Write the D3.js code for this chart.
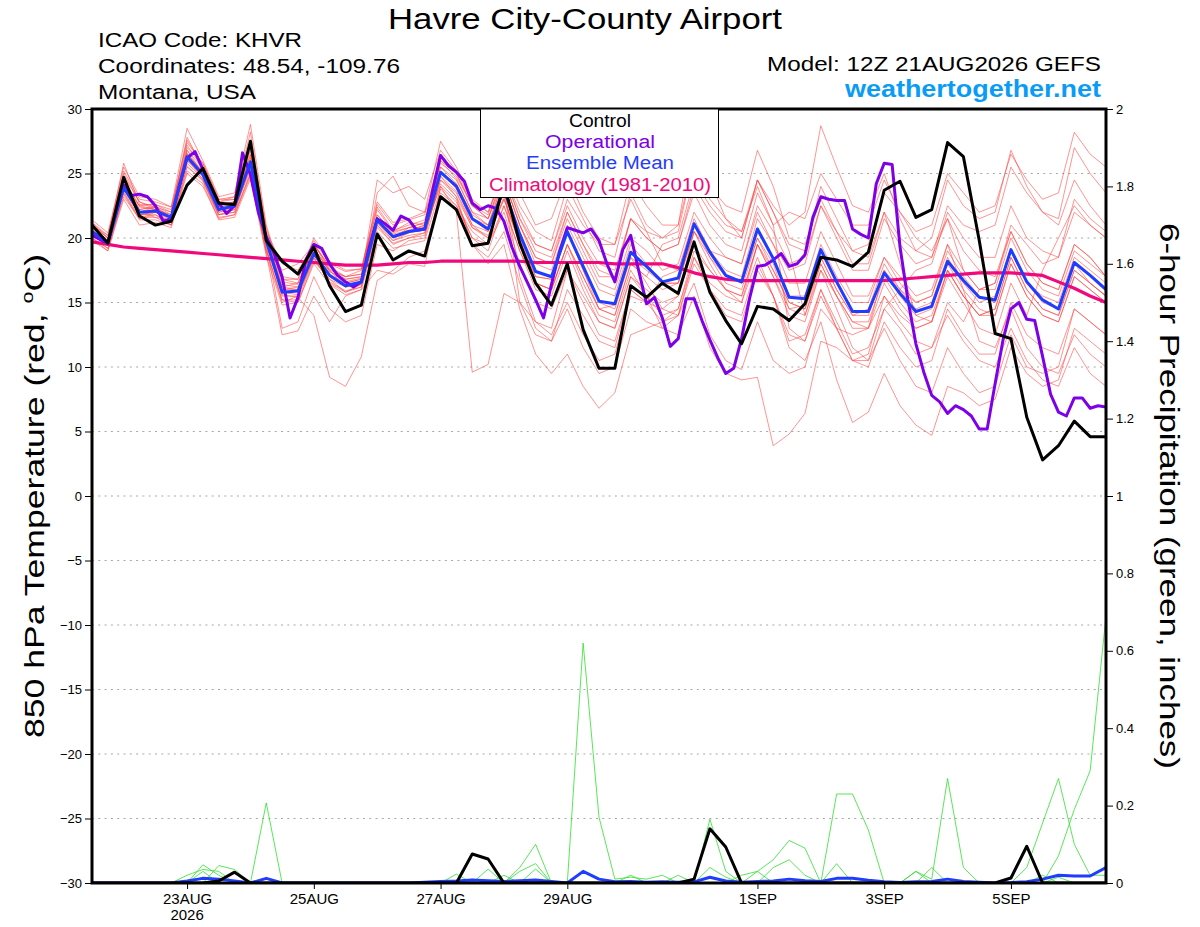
<!DOCTYPE html>
<html>
<head>
<meta charset="utf-8">
<script src="https://cdn.jsdelivr.net/npm/d3@7"></script>
<style>
body { margin: 0; background: #fff; }
text { font-family: "Liberation Sans", Arial, Helvetica, sans-serif; }
</style>
</head>
<body>
<script>
// run start and 6-hourly steps (65 points, 21AUG 12Z -> 6SEP 12Z)
const RUN_START = "2026-08-21T12:00:00Z"
const RUN_END = "2026-09-06T12:00:00Z"

const tickDates = ["2026-08-23", "2026-08-25", "2026-08-27", "2026-08-29", "2026-09-01", "2026-09-03", "2026-09-05"]
const tickLabels = ["23AUG", "25AUG", "27AUG", "29AUG", "1SEP", "3SEP", "5SEP"]
const tempTicks = [30, 25, 20, 15, 10, 5, 0, -5, -10, -15, -20, -25, -30]
const precipTicks = [0, 0.2, 0.4, 0.6, 0.8, 1, 1.2, 1.4, 1.6, 1.8, 2]

// control run, 850 hPa temp
const control = [21.0, 19.6, 24.7, 21.7, 21.0, 21.3, 24.1, 25.4, 22.7, 22.6, 27.5,
    19.8, 18.2, 17.2, 19.3, 16.3, 14.3, 14.8, 20.3, 18.3, 19.0, 18.6,
    23.2, 22.2, 19.4, 19.6, 24.2, 19.6, 16.5, 14.8, 18.0, 12.9, 9.9,
    9.9, 16.3, 15.4, 16.5, 15.7, 19.7, 15.8, 13.6, 11.8, 14.7, 14.5,
    13.6, 14.9, 18.5, 18.3, 17.8, 18.9, 23.7, 24.4, 21.6, 22.2, 27.4,
    26.3, 19.8, 12.6, 12.2, 6.1, 2.8, 3.9, 5.8, 4.6, 4.6]

// ensemble mean
const ensMean = [20.5, 19.6, 23.9, 22.0, 22.1, 21.6, 26.3, 24.9, 22.2, 22.5, 25.9,
    19.8, 15.8, 15.9, 18.8, 17.1, 16.3, 16.6, 21.4, 20.1, 20.5, 20.7,
    25.1, 24.0, 21.5, 20.7, 23.8, 20.3, 17.4, 17.0, 20.5, 17.8, 15.1,
    14.9, 18.9, 17.8, 16.6, 16.9, 21.1, 18.9, 17.1, 16.6, 20.7, 18.4,
    15.4, 15.3, 19.1, 16.6, 14.3, 14.3, 17.3, 15.7, 14.3, 14.7, 18.2,
    16.7, 15.4, 15.2, 19.1, 16.6, 15.2, 14.5, 18.1, 17.1, 16.0]

// climatology 1981-2010
const climo = [19.7, 19.5, 19.3, 19.2, 19.1, 19.0, 18.9, 18.8, 18.7, 18.6, 18.5,
    18.4, 18.3, 18.2, 18.1, 18.0, 17.9, 17.9, 17.9, 18.0, 18.1, 18.1,
    18.2, 18.2, 18.2, 18.2, 18.2, 18.2, 18.1, 18.1, 18.1, 18.1, 18.1,
    18.0, 18.0, 18.0, 18.0, 17.7, 17.3, 17.0, 16.8, 16.7, 16.7, 16.7,
    16.7, 16.7, 16.7, 16.7, 16.7, 16.7, 16.7, 16.8, 16.9, 17.0, 17.1,
    17.2, 17.3, 17.3, 17.3, 17.2, 17.1, 16.6, 16.1, 15.5, 15.0]

// operational run is 3-hourly (129 points)
const operational = [20.2, 19.9, 19.6, 22.0, 24.1, 23.3, 23.4, 23.2, 22.5, 21.3, 21.5,
    24.0, 26.2, 26.7, 25.3, 24.0, 22.7, 21.9, 22.5, 26.6, 24.9, 22.0,
    20.1, 18.8, 17.0, 13.8, 15.4, 18.3, 19.5, 19.2, 18.0, 17.1, 16.6,
    16.2, 16.6, 19.3, 21.5, 21.1, 20.6, 21.7, 21.4, 20.6, 20.7, 23.7,
    26.4, 25.6, 25.1, 24.4, 22.7, 22.2, 22.5, 22.3, 21.3, 19.3, 17.8,
    16.5, 15.2, 13.8, 16.4, 18.9, 20.8, 20.6, 20.4, 20.7, 19.8, 18.0,
    16.6, 19.1, 20.2, 17.5, 14.9, 15.4, 13.8, 11.6, 12.2, 15.3, 15.3,
    13.6, 12.1, 10.7, 9.5, 9.9, 12.2, 15.3, 17.8, 17.9, 18.3, 18.8,
    17.8, 18.0, 18.7, 21.6, 23.2, 23.0, 22.9, 22.9, 20.7, 20.3, 20.0,
    24.2, 25.8, 25.7, 19.3, 15.2, 11.8, 9.6, 7.8, 7.3, 6.4, 7.0,
    6.7, 6.2, 5.2, 5.2, 8.7, 12.1, 14.5, 15.0, 13.7, 13.6, 10.8,
    7.9, 6.5, 6.2, 7.6, 7.6, 6.8, 7.0, 6.9]

// ensemble members, 850 hPa temp
const memberTemps = [
    [21.2, 20.0, 25.0, 22.8, 22.4, 22.0, 27.8, 25.5, 22.8, 23.2, 28.2, 20.5, 18.0, 17.5, 19.5, 17.8, 16.8, 17.0, 24.5, 23.5, 24.0, 23.0, 26.8, 25.2, 22.8, 22.0, 25.5, 22.5, 20.5, 19.8, 24.0, 21.5, 19.0, 18.5, 23.5, 21.0, 20.0, 20.5, 26.0, 23.0, 21.5, 20.0, 24.5, 22.0, 19.5, 19.0, 24.0, 21.5, 19.0, 18.5, 22.0, 18.0, 14.0, 13.5, 17.0, 15.0, 13.0, 12.5, 16.5, 14.0, 17.5, 20.0, 22.5, 21.0, 20.0],
    [20.0, 19.2, 23.2, 21.5, 21.8, 21.0, 25.5, 24.5, 21.8, 22.0, 25.0, 19.0, 15.0, 15.5, 18.5, 16.5, 15.8, 16.2, 21.0, 19.5, 20.0, 20.2, 24.5, 23.5, 20.8, 20.2, 23.0, 19.8, 17.0, 16.8, 20.5, 17.5, 14.5, 14.8, 18.5, 16.5, 14.5, 14.0, 16.5, 12.5, 10.5, 9.8, 13.5, 10.5, 9.5, 10.0, 14.5, 13.0, 12.5, 13.0, 17.5, 16.0, 15.0, 15.5, 19.5, 17.5, 16.0, 16.5, 20.5, 18.0, 16.5, 16.0, 19.5, 18.5, 17.0],
    [20.8, 19.5, 24.2, 22.2, 22.5, 21.8, 26.5, 25.2, 22.5, 22.8, 26.5, 20.2, 16.8, 16.5, 19.2, 17.5, 17.0, 17.5, 22.2, 20.5, 21.2, 21.0, 25.8, 24.8, 22.5, 21.8, 25.5, 23.5, 21.0, 21.5, 24.8, 22.0, 20.0, 19.5, 23.0, 20.5, 18.0, 17.5, 21.5, 19.0, 17.0, 16.5, 20.0, 17.5, 15.0, 14.5, 18.0, 15.5, 13.5, 13.0, 15.5, 13.5, 12.0, 11.5, 14.0, 12.0, 10.5, 10.0, 13.0, 10.5, 9.0, 8.5, 11.5, 9.5, 8.5],
    [20.5, 19.8, 24.0, 21.8, 22.0, 21.5, 26.0, 24.8, 22.0, 22.2, 25.5, 19.5, 13.0, 13.5, 17.0, 14.5, 13.5, 14.0, 19.5, 19.0, 19.8, 20.0, 24.8, 23.2, 19.5, 18.5, 20.5, 16.5, 13.0, 12.0, 14.5, 11.5, 9.5, 10.0, 14.5, 13.5, 13.0, 14.0, 18.5, 16.5, 15.5, 15.0, 19.5, 17.0, 14.5, 14.8, 18.5, 16.0, 14.0, 14.5, 18.0, 16.0, 14.5, 15.0, 18.5, 16.5, 15.0, 15.5, 19.0, 16.5, 15.0, 14.5, 18.0, 16.5, 15.5],
    [20.2, 19.4, 24.5, 22.5, 22.6, 22.2, 26.8, 25.0, 22.6, 22.8, 26.2, 20.0, 16.2, 16.5, 19.5, 17.8, 17.0, 17.2, 21.8, 20.5, 20.8, 21.2, 25.5, 24.5, 22.0, 21.0, 24.5, 21.0, 18.5, 18.0, 21.5, 19.0, 16.5, 16.0, 20.0, 19.0, 17.5, 18.0, 22.0, 20.0, 18.5, 18.0, 22.0, 19.5, 16.5, 16.5, 20.5, 18.0, 15.5, 15.5, 18.5, 17.0, 15.5, 16.0, 19.5, 16.0, 12.0, 11.5, 14.5, 11.5, 10.0, 9.5, 12.5, 11.0, 10.0],
    [19.8, 19.0, 23.0, 21.0, 21.2, 20.8, 25.0, 24.0, 21.5, 21.8, 24.8, 18.8, 12.5, 12.8, 15.5, 13.5, 15.5, 16.0, 20.5, 19.2, 19.5, 19.8, 23.8, 22.5, 20.0, 19.5, 22.0, 18.0, 15.0, 14.5, 17.5, 15.0, 12.5, 12.0, 16.0, 15.0, 13.5, 14.0, 18.0, 16.0, 14.0, 13.5, 17.5, 15.5, 12.0, 12.5, 16.0, 13.5, 11.0, 11.5, 14.5, 13.0, 11.0, 11.5, 15.0, 13.5, 16.0, 16.5, 21.0, 19.5, 18.0, 18.5, 23.0, 21.5, 20.5],
    [21.0, 20.2, 24.8, 22.8, 22.2, 21.5, 27.0, 25.8, 23.0, 23.0, 27.5, 20.2, 16.0, 16.2, 19.0, 17.2, 16.5, 16.8, 21.5, 20.2, 20.5, 21.0, 25.0, 24.0, 21.0, 20.5, 24.0, 17.0, 13.5, 12.5, 15.0, 12.5, 10.5, 11.0, 15.5, 15.0, 17.0, 17.5, 21.0, 19.0, 17.5, 17.0, 21.5, 19.5, 17.5, 18.0, 22.5, 20.0, 17.5, 17.5, 21.5, 19.5, 18.0, 18.5, 22.5, 21.0, 20.5, 21.0, 25.5, 23.5, 22.0, 21.5, 27.0, 25.0, 23.5],
    [20.6, 19.6, 23.5, 21.5, 22.0, 21.2, 26.2, 24.5, 21.8, 22.2, 25.8, 19.8, 15.8, 15.6, 18.8, 17.0, 16.2, 16.4, 21.2, 19.8, 20.4, 20.6, 25.2, 23.8, 21.5, 20.5, 23.5, 20.0, 17.0, 16.8, 20.5, 17.5, 15.0, 14.5, 18.5, 17.5, 16.5, 16.5, 21.0, 18.5, 16.5, 16.0, 20.0, 18.0, 14.5, 14.0, 17.5, 14.5, 11.5, 10.5, 13.0, 10.5, 8.5, 8.0, 11.5, 9.5, 8.0, 8.5, 12.5, 10.0, 9.5, 10.0, 14.5, 13.5, 12.5],
    [20.4, 19.7, 24.2, 22.0, 21.6, 21.4, 26.0, 25.2, 22.2, 22.4, 25.2, 19.2, 15.2, 15.0, 18.2, 16.8, 15.8, 16.4, 21.0, 19.8, 20.2, 20.4, 24.2, 23.0, 19.5, 18.0, 19.5, 14.5, 11.0, 9.5, 11.0, 8.5, 6.8, 8.0, 12.5, 13.0, 13.5, 14.5, 19.0, 17.5, 16.0, 15.5, 19.5, 17.0, 14.0, 13.5, 17.5, 15.5, 13.5, 13.5, 17.0, 15.0, 13.5, 14.0, 17.5, 15.5, 14.0, 14.5, 18.5, 16.0, 14.5, 14.0, 17.5, 16.5, 15.5],
    [21.0, 20.0, 24.0, 22.5, 22.2, 21.8, 26.5, 25.0, 22.2, 22.6, 26.0, 19.8, 16.0, 16.0, 19.0, 17.0, 16.5, 16.8, 21.5, 20.0, 20.8, 20.8, 25.0, 24.2, 21.5, 21.0, 24.0, 15.0, 12.5, 12.0, 16.0, 14.0, 12.0, 11.5, 16.0, 15.0, 14.5, 15.5, 20.5, 19.0, 18.5, 18.0, 22.5, 20.5, 18.0, 18.5, 22.5, 20.5, 19.0, 19.5, 23.5, 22.0, 20.5, 21.0, 25.0, 23.5, 22.0, 22.5, 26.5, 24.5, 23.0, 23.5, 28.2, 26.5, 25.5],
    [20.0, 19.2, 23.8, 21.8, 21.8, 21.2, 25.8, 24.6, 21.8, 22.0, 25.6, 19.5, 15.5, 15.5, 18.5, 16.8, 16.2, 16.6, 21.2, 20.0, 20.4, 20.8, 24.0, 22.0, 9.6, 10.2, 15.7, 15.0, 13.5, 13.0, 17.5, 15.5, 13.5, 13.0, 17.0, 16.0, 15.0, 15.5, 19.5, 17.5, 16.0, 15.5, 19.5, 17.5, 15.0, 14.5, 18.5, 16.0, 14.0, 14.0, 17.5, 15.5, 14.0, 14.5, 18.0, 16.0, 14.5, 14.0, 18.0, 15.5, 14.0, 13.5, 17.0, 16.0, 15.0],
    [20.6, 19.4, 24.0, 22.0, 22.4, 21.6, 26.6, 25.0, 22.4, 22.6, 26.4, 19.8, 15.6, 15.4, 14.0, 9.2, 8.5, 10.8, 16.7, 17.5, 18.5, 19.0, 23.5, 22.5, 20.5, 19.5, 22.5, 19.0, 16.5, 16.0, 19.5, 17.0, 14.5, 14.0, 18.0, 17.0, 16.0, 16.5, 20.5, 18.5, 17.0, 16.5, 20.5, 18.5, 15.5, 15.5, 19.5, 17.0, 15.0, 15.0, 18.5, 16.5, 15.0, 15.5, 19.0, 17.0, 15.5, 15.0, 19.0, 16.5, 15.5, 15.0, 18.5, 17.5, 16.5],
    [21.4, 20.4, 25.5, 23.2, 23.0, 22.4, 28.5, 26.0, 23.2, 23.5, 28.8, 21.0, 17.0, 16.8, 20.0, 18.2, 17.5, 17.6, 22.8, 21.2, 21.5, 22.0, 27.5, 25.5, 23.0, 22.0, 25.0, 21.5, 19.0, 18.5, 22.0, 19.5, 17.5, 17.0, 21.5, 20.0, 19.0, 19.5, 24.0, 22.0, 20.5, 20.0, 24.5, 22.5, 21.0, 22.0, 28.7, 25.5, 22.5, 22.0, 25.0, 21.5, 19.0, 18.5, 21.5, 19.0, 17.5, 17.0, 20.5, 18.0, 16.5, 16.0, 19.5, 18.5, 17.0],
    [20.2, 19.4, 23.6, 21.6, 21.6, 21.0, 25.6, 24.4, 21.6, 21.8, 25.0, 19.0, 15.2, 15.2, 18.4, 16.6, 15.9, 16.2, 20.8, 19.6, 20.0, 20.4, 24.5, 23.2, 20.8, 20.0, 23.2, 19.5, 16.5, 16.0, 19.5, 16.5, 14.0, 13.5, 17.5, 15.5, 13.0, 12.5, 15.5, 11.5, 9.5, 9.0, 9.2, 3.9, 4.8, 6.4, 12.0, 11.5, 10.5, 11.0, 15.5, 14.0, 13.0, 13.5, 17.5, 15.5, 14.0, 14.5, 18.5, 16.0, 14.5, 14.0, 17.5, 16.5, 15.5],
    [20.8, 19.8, 24.6, 22.4, 22.2, 21.8, 27.2, 25.4, 22.6, 22.8, 27.0, 20.0, 16.2, 16.0, 19.2, 17.4, 16.6, 16.9, 21.6, 20.3, 20.6, 21.0, 25.5, 24.2, 21.8, 21.0, 24.5, 21.0, 18.0, 17.5, 21.0, 18.5, 16.0, 15.5, 19.5, 18.0, 16.5, 16.5, 20.5, 18.0, 16.0, 15.0, 18.5, 15.5, 11.5, 10.5, 13.5, 9.0, 5.7, 6.5, 9.5, 7.0, 5.5, 4.7, 8.5, 8.0, 7.0, 7.5, 11.5, 9.5, 8.5, 9.0, 13.0, 12.0, 11.0],
    [21.2, 20.2, 25.2, 23.0, 22.8, 22.4, 27.4, 25.8, 23.0, 23.2, 27.6, 20.8, 16.8, 16.8, 19.8, 18.0, 17.4, 17.6, 22.6, 21.0, 21.4, 21.8, 26.5, 25.0, 22.5, 21.5, 25.0, 21.5, 19.5, 19.0, 22.5, 20.0, 18.0, 17.5, 21.5, 20.0, 19.0, 19.5, 23.5, 21.0, 19.5, 19.0, 23.5, 21.0, 13.0, 12.0, 15.5, 13.0, 10.5, 10.5, 14.5, 16.0, 17.5, 18.0, 22.0, 20.0, 18.5, 18.5, 22.5, 20.0, 19.0, 18.5, 22.0, 21.0, 20.0],
    [20.0, 19.0, 23.4, 21.4, 21.4, 21.0, 25.2, 24.2, 21.4, 21.6, 24.6, 18.6, 14.8, 15.0, 18.0, 16.4, 15.6, 16.0, 17.5, 17.2, 18.0, 17.8, 24.0, 22.8, 20.0, 19.0, 22.5, 19.0, 16.0, 15.5, 19.0, 16.0, 13.5, 13.0, 17.0, 15.5, 14.0, 14.5, 18.5, 16.0, 14.5, 14.0, 18.0, 15.5, 12.5, 12.0, 16.0, 13.0, 10.5, 10.0, 13.5, 11.5, 10.0, 10.5, 14.5, 12.5, 11.0, 11.0, 15.0, 12.5, 11.5, 11.0, 14.5, 13.5, 12.5],
    [20.6, 19.8, 24.4, 22.2, 22.4, 21.6, 26.8, 25.4, 22.4, 22.6, 26.8, 20.2, 16.4, 16.2, 19.2, 17.4, 16.8, 17.0, 21.8, 20.4, 20.8, 21.2, 26.0, 24.6, 22.0, 21.5, 25.0, 22.0, 19.5, 19.0, 23.0, 21.0, 19.5, 19.5, 24.5, 22.5, 21.0, 21.0, 28.0, 24.5, 21.5, 20.5, 24.0, 21.0, 22.0, 21.5, 25.0, 23.0, 21.0, 21.0, 24.5, 22.0, 20.0, 19.0, 21.5, 17.5, 16.0, 16.0, 20.0, 17.5, 16.0, 15.5, 19.0, 18.0, 17.0],
    [20.4, 19.6, 23.8, 21.8, 22.0, 21.4, 26.0, 24.8, 22.0, 22.4, 25.6, 19.6, 17.5, 18.0, 19.5, 17.5, 16.2, 16.6, 23.5, 24.8, 22.5, 22.0, 24.8, 23.6, 21.0, 20.0, 23.0, 19.5, 16.5, 16.0, 19.5, 17.0, 14.5, 14.0, 18.0, 17.0, 19.5, 20.0, 24.5, 22.5, 21.0, 20.5, 24.5, 22.0, 19.0, 14.0, 18.0, 15.5, 13.0, 13.0, 16.5, 14.5, 13.0, 13.5, 17.5, 15.5, 14.0, 14.0, 18.0, 15.5, 14.0, 13.5, 17.0, 16.0, 15.0],
    [21.0, 20.0, 25.8, 22.6, 22.6, 22.0, 27.6, 25.6, 22.8, 23.0, 27.2, 20.4, 16.6, 16.4, 19.6, 17.6, 17.0, 17.2, 22.4, 20.6, 21.0, 21.4, 26.0, 25.0, 22.5, 21.5, 24.5, 21.0, 18.5, 18.0, 22.0, 19.5, 17.0, 17.0, 21.5, 20.5, 20.0, 21.0, 26.0, 24.0, 22.5, 22.0, 26.8, 24.0, 20.0, 19.5, 23.0, 20.5, 18.0, 18.0, 22.0, 20.0, 19.0, 20.0, 24.5, 22.5, 21.5, 22.0, 26.8, 24.0, 22.0, 21.0, 24.5, 22.5, 21.0]
]

// 6-hour precip, inches
const controlPrecip = [0, 0, 0, 0, 0, 0, 0, 0, 0.005, 0.028, 0,
    0, 0, 0, 0, 0, 0, 0, 0, 0, 0, 0,
    0, 0, 0.075, 0.062, 0, 0, 0, 0, 0, 0, 0,
    0, 0, 0, 0, 0, 0.01, 0.14, 0.093, 0, 0, 0,
    0, 0, 0, 0, 0, 0, 0, 0, 0, 0, 0,
    0, 0, 0, 0.013, 0.095, 0, 0, 0, 0, 0]

const meanPrecip = [0, 0, 0, 0, 0, 0, 0.005, 0.012, 0.01, 0.005, 0,
    0.012, 0, 0, 0, 0, 0, 0, 0, 0, 0, 0.002,
    0.004, 0.005, 0.008, 0.006, 0.004, 0.006, 0.008, 0.004, 0, 0.03, 0.01,
    0.003, 0.004, 0.002, 0.003, 0.002, 0.003, 0.015, 0.005, 0.002, 0.004, 0.005,
    0.01, 0.006, 0.004, 0.012, 0.012, 0.007, 0.003, 0.001, 0.003, 0.004, 0.01,
    0.004, 0.002, 0, 0.001, 0.003, 0.01, 0.02, 0.018, 0.018, 0.04]

const memberPrecip = [
    [0, 0, 0, 0, 0, 0, 0, 0.047, 0.02, 0, 0, 0.207, 0, 0, 0, 0, 0, 0, 0, 0, 0, 0, 0, 0, 0, 0, 0, 0, 0, 0, 0, 0, 0, 0, 0, 0, 0, 0, 0, 0, 0, 0, 0, 0, 0, 0, 0, 0, 0, 0, 0, 0, 0, 0, 0, 0, 0, 0, 0, 0, 0, 0, 0, 0, 0],
    [0, 0, 0, 0, 0, 0, 0, 0, 0, 0, 0, 0, 0, 0, 0, 0, 0, 0, 0, 0, 0, 0, 0, 0, 0, 0, 0, 0, 0.036, 0, 0, 0.62, 0.17, 0.01, 0.015, 0.01, 0.02, 0, 0, 0, 0, 0, 0, 0, 0, 0, 0, 0, 0, 0, 0, 0, 0, 0, 0, 0, 0, 0, 0, 0, 0, 0, 0, 0, 0],
    [0, 0, 0, 0, 0, 0, 0, 0, 0, 0, 0, 0, 0, 0, 0, 0, 0, 0, 0, 0, 0, 0, 0, 0, 0, 0, 0, 0, 0, 0, 0, 0, 0, 0, 0, 0, 0, 0, 0, 0.165, 0.03, 0, 0, 0, 0, 0, 0, 0.23, 0.23, 0.137, 0, 0, 0, 0, 0, 0, 0, 0, 0, 0, 0, 0, 0, 0, 0],
    [0, 0, 0, 0, 0, 0, 0, 0, 0, 0, 0, 0, 0, 0, 0, 0, 0, 0, 0, 0, 0, 0, 0, 0, 0, 0, 0, 0, 0, 0, 0, 0, 0, 0, 0, 0, 0, 0, 0, 0, 0, 0, 0, 0, 0, 0, 0, 0, 0, 0, 0, 0, 0.03, 0.01, 0.27, 0.04, 0, 0, 0, 0, 0, 0, 0, 0, 0],
    [0, 0, 0, 0, 0, 0, 0, 0, 0, 0, 0, 0, 0, 0, 0, 0, 0, 0, 0, 0, 0, 0, 0, 0, 0, 0, 0, 0, 0, 0, 0, 0, 0, 0, 0, 0, 0, 0, 0, 0, 0, 0, 0, 0, 0, 0, 0, 0, 0, 0, 0, 0, 0, 0, 0, 0, 0, 0, 0, 0.04, 0.155, 0.27, 0.10, 0.02, 0.02],
    [0, 0, 0, 0, 0, 0, 0, 0, 0, 0, 0, 0, 0, 0, 0, 0, 0, 0, 0, 0, 0, 0, 0, 0, 0, 0, 0, 0, 0, 0, 0, 0, 0, 0, 0, 0, 0, 0, 0, 0, 0, 0, 0, 0, 0, 0, 0, 0, 0, 0, 0, 0, 0, 0, 0, 0, 0, 0, 0, 0, 0, 0.07, 0.19, 0.29, 0.69],
    [0, 0, 0, 0, 0, 0, 0, 0, 0.045, 0.035, 0, 0, 0, 0, 0, 0, 0, 0, 0, 0, 0, 0, 0, 0, 0, 0, 0, 0.04, 0.10, 0, 0, 0, 0, 0, 0, 0, 0, 0, 0, 0, 0, 0, 0.03, 0.06, 0.11, 0.09, 0, 0, 0, 0, 0, 0, 0, 0, 0, 0, 0, 0, 0, 0, 0, 0, 0, 0, 0],
    [0, 0, 0, 0, 0, 0, 0, 0.03, 0, 0, 0, 0, 0, 0, 0, 0, 0, 0, 0, 0, 0, 0, 0, 0.023, 0, 0.036, 0, 0, 0, 0, 0, 0, 0, 0, 0, 0, 0, 0, 0, 0.04, 0.015, 0, 0, 0, 0, 0, 0, 0.05, 0, 0, 0, 0, 0, 0.04, 0, 0, 0, 0, 0, 0, 0.02, 0, 0, 0, 0],
    [0, 0, 0, 0, 0, 0, 0.02, 0.035, 0.03, 0, 0, 0, 0, 0, 0, 0, 0, 0, 0, 0, 0, 0, 0, 0, 0, 0, 0, 0.03, 0.05, 0, 0, 0, 0, 0, 0, 0, 0, 0, 0, 0, 0, 0, 0, 0.04, 0.06, 0.02, 0, 0, 0, 0, 0, 0, 0.03, 0, 0, 0, 0, 0, 0, 0, 0, 0.015, 0, 0, 0],
    [0, 0, 0, 0, 0, 0, 0, 0.015, 0, 0, 0, 0, 0, 0, 0, 0, 0, 0, 0, 0, 0, 0, 0, 0, 0.01, 0, 0.02, 0, 0, 0, 0, 0, 0, 0, 0.02, 0, 0, 0.02, 0, 0, 0, 0.02, 0.03, 0, 0, 0, 0, 0, 0, 0, 0, 0, 0, 0, 0, 0, 0, 0, 0, 0, 0, 0, 0, 0, 0]
]

const width = 1200,
    height = 927;

// plot box
const pLeft = 92, pRight = 1106, pTop = 109, pBottom = 883;

const svg = d3.select("body")
    .append("svg")
    .attr("width", width)
    .attr("height", height);

const start = new Date(RUN_START)
const x = d3.scaleUtc()
    .domain([start, new Date(RUN_END)])
    .range([pLeft, pRight]);

const yT = d3.scaleLinear().domain([-30, 30]).range([pBottom, pTop]);
const yP = d3.scaleLinear().domain([0, 2]).range([pBottom, pTop]);

const HOUR = 3600 * 1000
const stepTime = (i, h) => new Date(start.getTime() + i * h * HOUR)

svg.append("clipPath").attr("id", "plot")
    .append("rect")
    .attr("x", pLeft).attr("y", pTop)
    .attr("width", pRight - pLeft).attr("height", pBottom - pTop);

// dotted grid at the temperature ticks
svg.append("g")
    .selectAll("line")
    .data(tempTicks.filter(t => t > -30 && t < 30))
    .join("line")
    .attr("x1", pLeft).attr("x2", pRight)
    .attr("y1", d => yT(d)).attr("y2", d => yT(d))
    .attr("stroke", "#a8a8a8")
    .attr("stroke-width", 1.2)
    .attr("stroke-dasharray", "2,4.3");

const plot = svg.append("g").attr("clip-path", "url(#plot)");

const line6 = (scale) => d3.line()
    .x((d, i) => x(stepTime(i, 6)))
    .y(d => scale(d));

// ensemble members
plot.append("g")
    .selectAll("path")
    .data(memberTemps)
    .join("path")
    .attr("d", line6(yT))
    .attr("fill", "none")
    .attr("stroke", "#ff4040")
    .attr("stroke-opacity", 0.75)
    .attr("stroke-width", 0.75);

plot.append("g")
    .selectAll("path")
    .data(memberPrecip)
    .join("path")
    .attr("d", line6(yP))
    .attr("fill", "none")
    .attr("stroke", "#2ee02e")
    .attr("stroke-width", 0.8);

const mainLine = (data, gen, color, w) => plot.append("path")
    .datum(data)
    .attr("d", gen)
    .attr("fill", "none")
    .attr("stroke", color)
    .attr("stroke-width", w)
    .attr("stroke-linejoin", "round");

mainLine(climo, line6(yT), "#f0087c", 3.2)

const line3 = d3.line()
    .x((d, i) => x(stepTime(i, 3)))
    .y(d => yT(d));
mainLine(operational, line3, "#7d00e8", 3)

mainLine(ensMean, line6(yT), "#1f3cff", 3)
mainLine(meanPrecip, line6(yP), "#1f3cff", 3)
mainLine(control, line6(yT), "#000", 3)
mainLine(controlPrecip, line6(yP), "#000", 3)

// frame
svg.append("rect")
    .attr("x", pLeft).attr("y", pTop)
    .attr("width", pRight - pLeft).attr("height", pBottom - pTop)
    .attr("fill", "none")
    .attr("stroke", "#000")
    .attr("stroke-width", 3);

// left axis
const axL = svg.append("g")
    .attr("transform", `translate(${pLeft - 1},0)`)
    .call(d3.axisLeft(yT).tickValues(tempTicks).tickSize(6).tickPadding(3).tickFormat(d3.format("d")));
axL.select(".domain").remove();
axL.selectAll("text").attr("font-size", 13).attr("font-family", "Liberation Sans, Arial, sans-serif");

// right axis
const axR = svg.append("g")
    .attr("transform", `translate(${pRight + 1},0)`)
    .call(d3.axisRight(yP).tickValues(precipTicks).tickSize(6).tickPadding(3).tickFormat(d => d3.format("~g")(d)));
axR.select(".domain").remove();
axR.selectAll("text").attr("font-size", 13).attr("font-family", "Liberation Sans, Arial, sans-serif");

// bottom axis
const axB = svg.append("g")
    .attr("transform", `translate(0,${pBottom + 1})`)
    .call(d3.axisBottom(x)
        .tickValues(tickDates.map(d => new Date(d + "T00:00:00Z")))
        .tickSize(5).tickPadding(4)
        .tickFormat((d, i) => tickLabels[i]));
axB.select(".domain").remove();
axB.selectAll("text").attr("font-size", 15).attr("font-family", "Liberation Sans, Arial, sans-serif");

svg.append("text")
    .attr("x", x(new Date(tickDates[0] + "T00:00:00Z")))
    .attr("y", 920)
    .attr("text-anchor", "middle")
    .attr("font-size", 15)
    .text("2026");

// axis titles
svg.append("text")
    .attr("transform", `translate(44,${(pTop + pBottom) / 2}) rotate(-90)`)
    .attr("text-anchor", "middle")
    .attr("font-size", 28)
    .attr("textLength", 484)
    .attr("lengthAdjust", "spacingAndGlyphs")
    .html('850 hPa Temperature (red, <tspan font-size="17" dy="-11">o</tspan><tspan dy="11">C)</tspan>');

svg.append("text")
    .attr("transform", `translate(1160,${(pTop + pBottom) / 2}) rotate(90)`)
    .attr("text-anchor", "middle")
    .attr("font-size", 28)
    .attr("textLength", 546)
    .attr("lengthAdjust", "spacingAndGlyphs")
    .text("6-hour Precipitation (green, inches)");

// header
const header = (txt, xx, yy, size, len, anchor, color, weight) => svg.append("text")
    .attr("x", xx).attr("y", yy)
    .attr("font-size", size)
    .attr("text-anchor", anchor)
    .attr("fill", color || "#000")
    .attr("font-weight", weight || "normal")
    .attr("textLength", len)
    .attr("lengthAdjust", "spacingAndGlyphs")
    .text(txt);

header("Havre City-County Airport", 585, 29, 29, 394, "middle")
header("ICAO Code: KHVR", 98, 47, 19.5, 204, "start")
header("Coordinates: 48.54, -109.76", 98, 73, 19.5, 302, "start")
header("Montana, USA", 98, 99, 19.5, 158, "start")
header("Model: 12Z 21AUG2026 GEFS", 1101, 71, 19.5, 334, "end")
header("weathertogether.net", 1101, 97, 24, 256, "end", "#0a9cf5", "bold")

// legend
const legend = svg.append("g");
legend.append("rect")
    .attr("x", 480.5).attr("y", 109)
    .attr("width", 238).attr("height", 88.5)
    .attr("fill", "#fff")
    .attr("stroke", "#000")
    .attr("stroke-width", 1);

const legendItems = [
    ["Control", "#000", 127, 62],
    ["Operational", "#7d00e8", 148, 110],
    ["Ensemble Mean", "#1f3cff", 169, 148],
    ["Climatology (1981-2010)", "#f0087c", 191, 222]
]
legend.selectAll("text")
    .data(legendItems)
    .join("text")
    .attr("x", 600)
    .attr("y", d => d[2])
    .attr("text-anchor", "middle")
    .attr("font-size", 18)
    .attr("fill", d => d[1])
    .attr("textLength", d => d[3])
    .attr("lengthAdjust", "spacingAndGlyphs")
    .text(d => d[0]);
</script>
</body>
</html>
